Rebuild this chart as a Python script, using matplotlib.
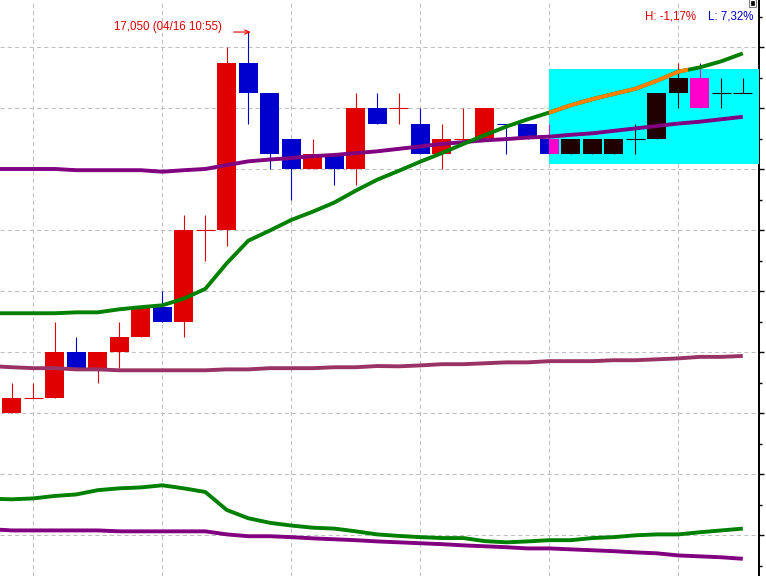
import numpy as np
import matplotlib
matplotlib.use("Agg")
import matplotlib.pyplot as plt
from matplotlib.patches import Rectangle
from matplotlib.ticker import MultipleLocator

# ---------------- data ----------------
opens  = [15800, 15850, 15850, 16000, 15950, 16000, 16050, 16150, 16100, 16400,
          16400, 16950, 16850, 16700, 16600, 16650, 16600, 16800, 16800, 16750,
          16650, 16700, 16700, 16750, 16750, 16700, 16650, 16650, 16650, 16700,
          16700, 16850, 16900, 16850, 16850]
highs  = [15900, 15900, 16100, 16050, 16000, 16100, 16150, 16200, 16450, 16450,
          17000, 17050, 16850, 16700, 16700, 16650, 16850, 16850, 16850, 16800,
          16750, 16800, 16800, 16750, 16750, 16750, 16700, 16700, 16700, 16750,
          16850, 16950, 16950, 16900, 16900]
lows   = [15800, 15850, 15850, 15950, 15900, 15950, 16050, 16100, 16050, 16300,
          16350, 16750, 16600, 16500, 16600, 16550, 16550, 16750, 16750, 16650,
          16600, 16700, 16700, 16650, 16700, 16650, 16650, 16650, 16650, 16650,
          16700, 16800, 16800, 16800, 16850]
closes = [15850, 15850, 16000, 15950, 16000, 16050, 16150, 16100, 16400, 16400,
          16950, 16850, 16650, 16600, 16650, 16600, 16800, 16750, 16800, 16650,
          16700, 16700, 16800, 16750, 16700, 16650, 16700, 16700, 16700, 16700,
          16850, 16900, 16800, 16850, 16850]

# indicator lines (first value = left edge of the view)
ma_green_upper = [16128, 16128, 16128, 16128, 16131, 16131, 16141, 16148, 16154, 16176,
                  16208, 16292, 16366, 16399, 16434, 16461, 16491, 16530, 16566, 16595,
                  16625, 16653, 16683, 16712, 16740, 16764, 16786, 16810, 16830, 16847,
                  16864, 16890, 16920, 16934, 16954, 16980]
ma_purple_upper = [16601, 16601, 16601, 16601, 16597, 16597, 16597, 16597, 16592, 16597,
                   16601, 16614, 16626, 16632, 16637, 16643, 16647, 16653, 16659, 16667,
                   16675, 16683, 16689, 16695, 16699, 16704, 16707, 16713, 16718, 16726,
                   16734, 16742, 16750, 16756, 16764, 16772]
ma_maroon = [15955, 15951, 15948, 15948, 15944, 15944, 15941, 15941, 15941, 15941,
             15941, 15944, 15944, 15948, 15948, 15948, 15951, 15951, 15955, 15954,
             15957, 15961, 15961, 15964, 15967, 15967, 15971, 15971, 15971, 15974,
             15974, 15977, 15980, 15985, 15985, 15988]
ma_green_lower = [15520, 15518, 15521, 15529, 15534, 15548, 15554, 15557, 15564, 15554,
                  15542, 15483, 15456, 15441, 15432, 15425, 15422, 15413, 15403, 15398,
                  15394, 15391, 15391, 15381, 15377, 15380, 15384, 15384, 15391, 15394,
                  15400, 15403, 15403, 15410, 15416, 15422]
ma_purple_lower = [15420, 15416, 15416, 15416, 15416, 15416, 15413, 15413, 15413, 15413,
                   15413, 15403, 15397, 15397, 15394, 15390, 15387, 15384, 15380, 15377,
                   15374, 15371, 15367, 15364, 15361, 15357, 15357, 15354, 15351, 15348,
                   15344, 15341, 15334, 15331, 15328, 15323]

highlight_start = 25          # pattern box starts at this candle
highlight_low, highlight_high = 16616, 16929
orange_end = 31.46
grid_candles = [1, 7, 13, 19, 25, 31]
price_grid = list(range(15400, 17001, 200))
peak_label = "17,050 (04/16 10:55)"
peak_index = 11
h_text = "H: -1,17%"
l_text = "L: 7,32%"

# ---------------- style ----------------
RED, BLUE = "#E00000", "#0000CC"
BLACK, MAGENTA = "#200000", "#FF00CC"
CYAN = "#00FFFF"
GREEN, ORANGE, PURPLE, MAROON = "#008000", "#FF8000", "#800080", "#993366"

W, H = 766, 576
fig = plt.figure(figsize=(W / 100, H / 100), dpi=100)
fig.patch.set_facecolor("white")
ax = fig.add_axes([0, 0, 758.7 / W, 1])
ax.set_facecolor("white")

n = len(opens)
ax.set_xlim(-0.549, 34.74)
ax.set_ylim(15266.6, 17155)

for s in ("left", "top", "bottom"):
    ax.spines[s].set_visible(False)
ax.spines["right"].set_linewidth(1.4)
ax.spines["right"].set_color("black")
ax.yaxis.tick_right()
ax.set_yticks(price_grid)
ax.yaxis.set_minor_locator(MultipleLocator(100))
ax.tick_params(axis="y", which="both", direction="out", labelright=False,
               labelleft=False, left=False, right=True, width=1.0)
ax.tick_params(axis="y", which="major", length=3.8)
ax.tick_params(axis="y", which="minor", length=2.4)
ax.set_xticks(grid_candles)
ax.tick_params(axis="x", which="both", length=0, labelbottom=False)
ax.grid(True, which="major", color="#C0C0C0", linestyle=(0, (4, 3)), linewidth=0.75)
ax.set_axisbelow(True)

bw = 0.88


def draw_candles(idx, colors, z, clip=None):
    artists = []
    for i, col in zip(idx, colors):
        o, h, l, c = opens[i], highs[i], lows[i], closes[i]
        artists.append(ax.vlines(i, l, h, color=col, linewidth=0.8, zorder=z))
        if o == c:
            artists.append(ax.hlines(o, i - bw / 2, i + bw / 2, color=col,
                                     linewidth=0.8, zorder=z))
        else:
            bars = ax.bar(i, abs(c - o), bottom=min(o, c), width=bw, color=col,
                          linewidth=0, zorder=z)
            artists.extend(bars.patches)
    if clip is not None:
        for a in artists:
            a.set_clip_path(clip)


orig_colors = []
for i in range(n):
    if closes[i] > opens[i]:
        orig_colors.append(RED)
    elif closes[i] < opens[i]:
        orig_colors.append(BLUE)
    else:
        prev = closes[i - 1] if i > 0 else closes[i]
        orig_colors.append(RED if closes[i] >= prev else BLUE)
draw_candles(range(n), orig_colors, 2)

# pattern highlight box
xr = ax.get_xlim()[1]
box = Rectangle((highlight_start, highlight_low), xr - highlight_start,
                highlight_high - highlight_low, facecolor=CYAN, edgecolor="none",
                zorder=3)
ax.add_patch(box)
hl_idx = list(range(highlight_start, n))
hl_colors = [MAGENTA if closes[i] < opens[i] else BLACK for i in hl_idx]
draw_candles(hl_idx, hl_colors, 4, clip=box)

# indicator lines
lx = np.arange(-1, n)
lw = 2.8
ax.plot(lx, ma_purple_lower, color=PURPLE, lw=lw, zorder=5, solid_capstyle="butt")
ax.plot(lx, ma_green_lower, color=GREEN, lw=lw, zorder=5, solid_capstyle="butt")
ax.plot(lx, ma_maroon, color=MAROON, lw=lw, zorder=5, solid_capstyle="butt")
ax.plot(lx, ma_purple_upper, color=PURPLE, lw=lw, zorder=5, solid_capstyle="butt")
ax.plot(lx, ma_green_upper, color=GREEN, lw=lw, zorder=5, solid_capstyle="butt")
orange_line, = ax.plot(lx, ma_green_upper, color=ORANGE, lw=lw, zorder=6,
                       solid_capstyle="butt")
oclip = Rectangle((highlight_start, 15000), orange_end - highlight_start, 3000,
                  transform=ax.transData)
orange_line.set_clip_path(oclip)

# peak annotation
peak_val = highs[peak_index]
txt_font = ["Liberation Sans", "DejaVu Sans"]
fs = 8.3
ax.annotate(peak_label, xy=(peak_index, peak_val), xytext=(-26, 5.5),
            textcoords="offset pixels", ha="right", va="center", color=RED,
            fontsize=fs, family=txt_font, zorder=7)
ax.annotate("", xy=(peak_index + 0.12, peak_val), xytext=(peak_index - 0.68, peak_val),
            textcoords="data",
            arrowprops=dict(arrowstyle="->,head_length=0.35,head_width=0.15",
                            color=RED, lw=0.8, shrinkA=0, shrinkB=0,
                            patchA=None, patchB=None),
            zorder=7)

# H / L percentages
fig.text(645 / W, 1 - 16.5 / H, h_text, color=RED, fontsize=fs, family=txt_font,
         ha="left", va="center")
fig.text(708 / W, 1 - 16.5 / H, l_text, color=BLUE, fontsize=fs, family=txt_font,
         ha="left", va="center")

# small window icon at the top right
fig.add_artist(Rectangle((748.5 / W, 1 - 6.5 / H), 7 / W, 7 / H, transform=fig.transFigure,
                         facecolor="white", edgecolor="#808080", linewidth=0.8))
fig.add_artist(Rectangle((750.5 / W, 1 - 4.5 / H), 3 / W, 3 / H, transform=fig.transFigure,
                         facecolor="black", edgecolor="black", linewidth=0.5))

fig.savefig("out.png", dpi=100)
